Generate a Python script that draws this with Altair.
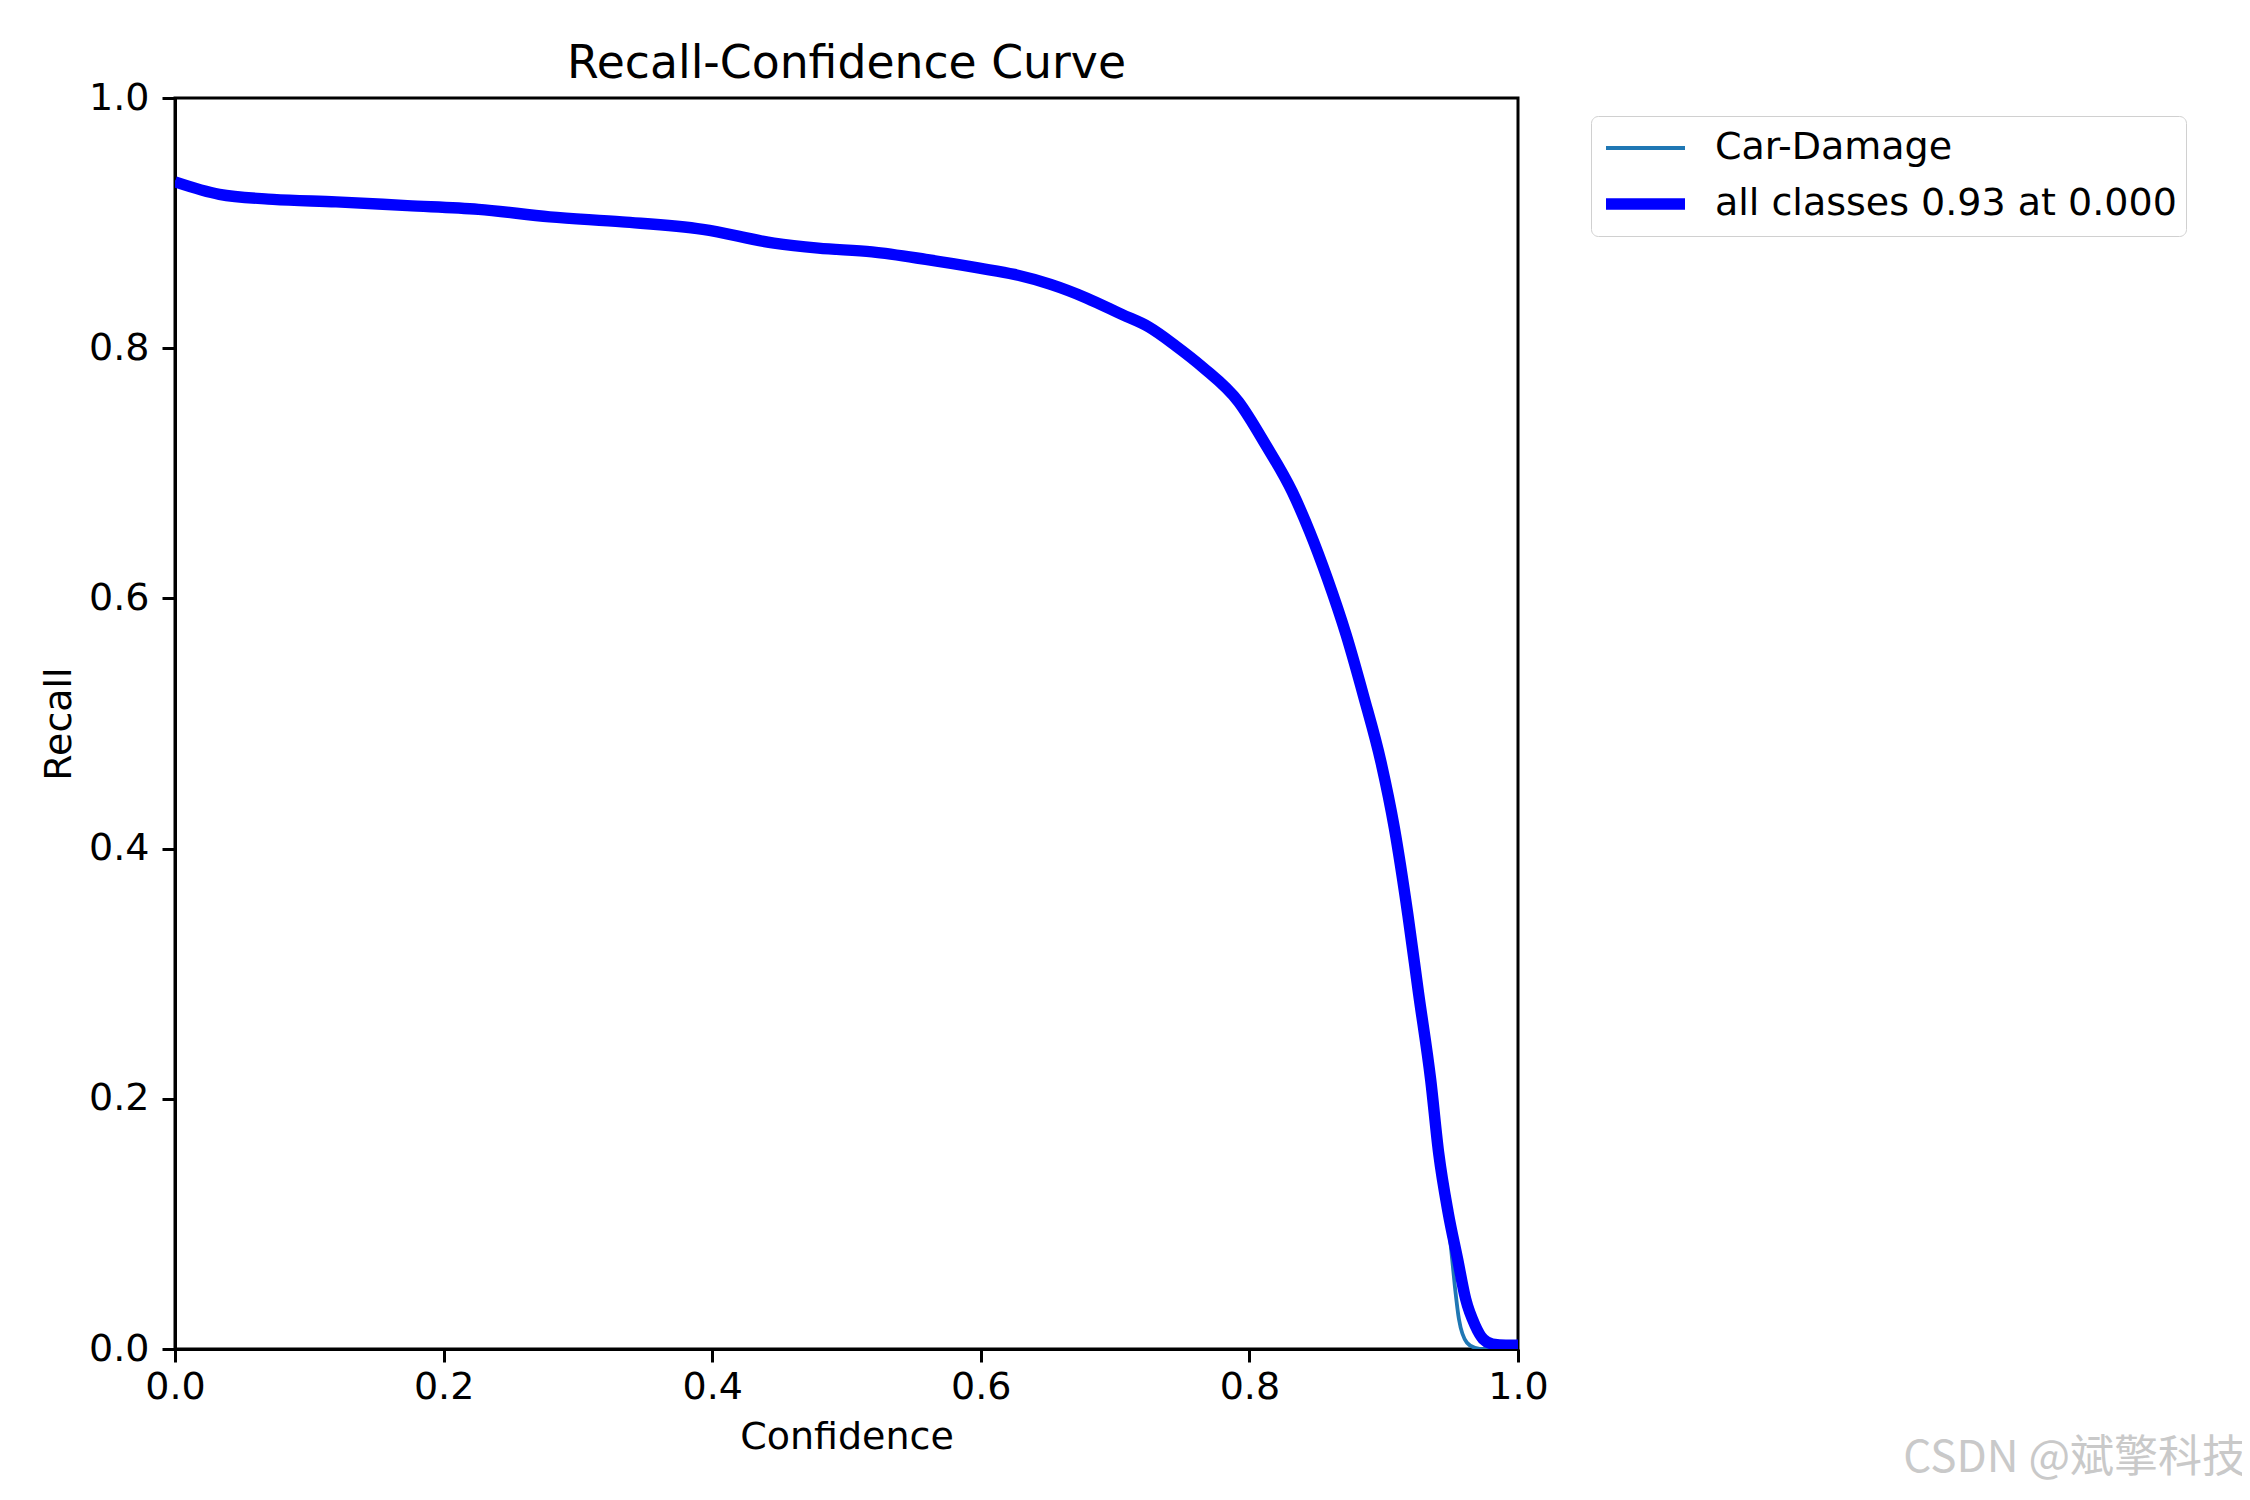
import altair as alt
import pandas as pd

# ---- data ----
confidence = [0.000, 0.033, 0.073, 0.120, 0.173, 0.226, 0.279, 0.333, 0.393, 0.446,
              0.479, 0.519, 0.559, 0.599, 0.625, 0.652, 0.679, 0.705, 0.725, 0.745,
              0.765, 0.792, 0.812, 0.832, 0.845, 0.858, 0.872, 0.885, 0.898, 0.908,
              0.918, 0.926, 0.935, 0.941, 0.948, 0.955, 0.961, 0.968, 0.974, 0.981,
              0.991, 1.000]
recall_all = [0.933, 0.923, 0.919, 0.917, 0.914, 0.911, 0.905, 0.901, 0.895, 0.884,
              0.880, 0.877, 0.871, 0.864, 0.859, 0.851, 0.840, 0.827, 0.817, 0.802,
              0.785, 0.757, 0.723, 0.685, 0.653, 0.616, 0.571, 0.522, 0.469, 0.416,
              0.347, 0.284, 0.215, 0.156, 0.109, 0.072, 0.040, 0.019, 0.008, 0.004,
              0.003, 0.003]
# single class curve: same as the mean except the steeper tail
car_conf = confidence[:34] + [0.948, 0.950, 0.953, 0.956, 0.962, 0.968, 0.975, 0.985, 1.000]
car_recall = recall_all[:34] + [0.100, 0.082, 0.050, 0.024, 0.005, 0.001, 0.000, 0.000, 0.000]

series_names = ["Car-Damage", "all classes 0.93 at 0.000"]
series_colors = ["#1f77b4", "#0000ff"]
series_widths = [3.8, 11.4]
tick_values = [0.0, 0.2, 0.4, 0.6, 0.8, 1.0]
chart_title = "Recall-Confidence Curve"
x_title = "Confidence"
y_title = "Recall"
watermark = ["CSDN @斌擎科技"]

df_car = pd.DataFrame({"conf": car_conf, "recall": car_recall, "series": series_names[0]})
df_all = pd.DataFrame({"conf": confidence, "recall": recall_all, "series": series_names[1]})
df_wm = pd.DataFrame({"t": watermark})

FONT = "DejaVu Sans"
FS = 38

x_enc = alt.X("conf:Q", scale=alt.Scale(domain=[0, 1], nice=False, zero=False),
              axis=alt.Axis(values=tick_values, format=".1f", title=x_title))
y_enc = alt.Y("recall:Q", scale=alt.Scale(domain=[0, 1], nice=False, zero=False),
              axis=alt.Axis(values=tick_values, format=".1f", title=y_title))


def make_legend():
    return alt.Legend(title=None, orient="none", legendX=1416, legendY=18,
                      symbolType="stroke", symbolSize=6241,
                      clipHeight=46, rowPadding=10, padding=9,
                      labelOffset=24, labelFont=FONT, labelFontSize=FS,
                      labelColor="black", strokeColor="#d0d0d0",
                      cornerRadius=7, fillColor="white", labelLimit=1000)


color_enc = alt.Color("series:N",
                      scale=alt.Scale(domain=series_names, range=series_colors),
                      legend=make_legend())
sw_enc = alt.StrokeWidth("series:N",
                         scale=alt.Scale(domain=series_names, range=series_widths),
                         legend=make_legend())

line_car = alt.Chart(df_car).mark_line(clip=True, interpolate="monotone").encode(
    x=x_enc, y=y_enc, color=color_enc, strokeWidth=sw_enc)
line_all = alt.Chart(df_all).mark_line(clip=True, interpolate="monotone").encode(
    x=x_enc, y=y_enc, color=color_enc, strokeWidth=sw_enc)

wm = alt.Chart(df_wm).mark_text(font="Noto Sans CJK SC", fontSize=44, color="#c9c9c9",
                                align="right", baseline="alphabetic").encode(
    x=alt.value(2071), y=alt.value(1374), text="t:N")

chart = alt.layer(line_car, line_all, wm).properties(
    width=1343, height=1251,
    title=alt.TitleParams(chart_title, font=FONT, fontSize=45.7, fontWeight="normal",
                          color="black", anchor="middle", frame="group",
                          baseline="alphabetic", offset=-45),
    autosize=alt.AutoSizeParams(type="none"),
    padding={"left": 167, "top": 90, "right": 724, "bottom": 143},
).configure_view(
    stroke="black", strokeWidth=3
).configure_axis(
    grid=False, domainColor="black", domainWidth=3, tickColor="black", tickWidth=3,
    tickSize=13, labelPadding=13, labelFont=FONT, labelFontSize=FS, labelColor="black",
    titleFont=FONT, titleFontSize=FS, titleFontWeight="normal", titleColor="black",
    labelFlush=False
).configure_axisX(titlePadding=12, labelPadding=6).configure_axisY(titlePadding=10)

chart.save("out.html", embed_options={"renderer": "svg", "actions": False})
